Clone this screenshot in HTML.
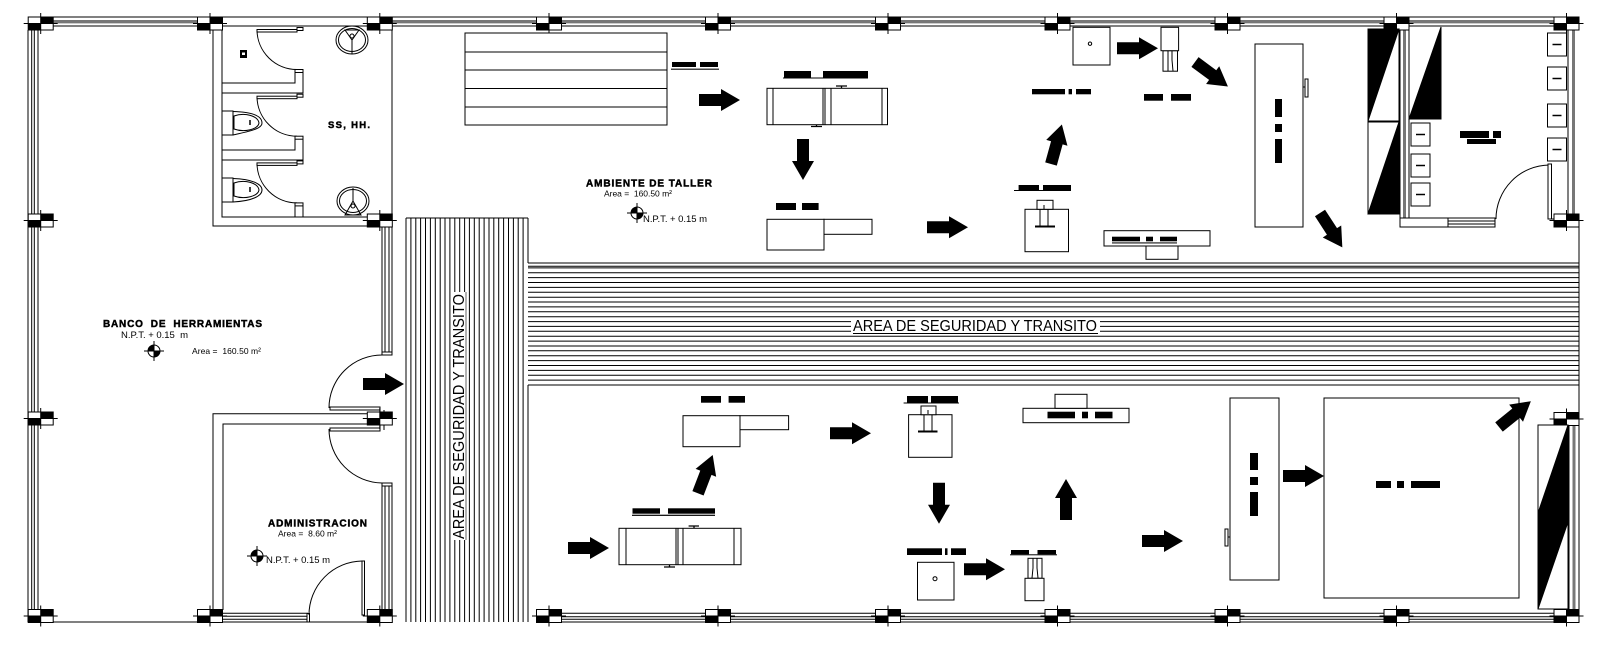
<!DOCTYPE html>
<html><head><meta charset="utf-8"><style>
html,body{margin:0;padding:0;background:#fff;width:1600px;height:656px;overflow:hidden}
svg{display:block}
text{font-family:"Liberation Sans",sans-serif;fill:#000}
.b{font-weight:bold;stroke:#000;stroke-width:.45}
</style></head><body>
<svg width="1600" height="656" viewBox="0 0 1600 656" xmlns="http://www.w3.org/2000/svg">
<defs>
<g id="c"><rect x="-12.5" y="-6.5" width="25" height="13" fill="#fff" stroke="#000"/><rect x="0" y="-6.5" width="12.5" height="6.5" fill="#000"/><rect x="-12.5" y="0" width="12.5" height="6.5" fill="#000"/><path d="M0,-10.5V10.5M-17,0H17" stroke="#000" fill="none"/></g>
<polygon id="a" points="0,-6 22,-6 22,-11 41,0 22,11 22,6 0,6" fill="#000"/>
<g id="s" fill="none" stroke="#000"><path d="M257,30A40,40 0 0 0 297,69.5"/><rect x="257" y="29.5" width="40" height="2.5" fill="#fff"/><rect x="297" y="27.5" width="6" height="3" fill="#fff"/><rect x="295" y="69.5" width="8" height="3" fill="#fff"/></g>
<g id="n"><circle r="6" fill="#fff" stroke="#000"/><path d="M0,0V-6A6,6 0 0 0 -6,0ZM0,0V6A6,6 0 0 0 6,0Z" fill="#000"/><path d="M0,-10V10M-10,0H10" stroke="#000" fill="none"/></g>
<g id="bx" fill="#fff" stroke="#000"><rect x="0" y="0" width="19" height="23"/><path d="M5,11.5H14" stroke-width="1.5"/></g>
</defs>

<!-- hatch vertical -->
<path fill="none" stroke="#000" stroke-width="1" d="M406,218V622M410.9,218V622M415.8,218V622M420.6,218V622M425.5,218V622M430.4,218V622M435.3,218V622M440.2,218V622M445,218V622M449.9,218V622M454.8,218V622M459.7,218V622M464.6,218V622M469.4,218V622M474.3,218V622M479.2,218V622M484.1,218V622M489,218V622M493.8,218V622M498.7,218V622M503.6,218V622M508.5,218V622M513.4,218V622M518.2,218V622M523.1,218V622M528,218V263M528,385V622M406,218H528"/>
<!-- hatch horizontal -->
<path fill="none" stroke="#000" stroke-width="1" d="M528,263H1579M528,266.2H1579M528,267.9H1579M528,272.8H1579M528,277.6H1579M528,282.5H1579M528,287.4H1579M528,292.3H1579M528,297.2H1579M528,302H1579M528,306.9H1579M528,311.8H1579M528,316.7H1579M528,321.6H1579M528,326.4H1579M528,331.3H1579M528,336.2H1579M528,341.1H1579M528,346H1579M528,350.8H1579M528,355.7H1579M528,360.6H1579M528,365.5H1579M528,370.4H1579M528,375.2H1579M528,380.1H1579M528,385H1579"/>
<rect x="851" y="318" width="249" height="15" fill="#fff"/>
<path d="M853,333.5H1098" stroke="#000" fill="none"/>
<text x="853" y="331" font-size="15.5" textLength="244" lengthAdjust="spacingAndGlyphs">AREA DE SEGURIDAD Y TRANSITO</text>
<rect x="452" y="292" width="14" height="248" fill="#fff"/>
<path d="M466,292V540" stroke="#666" fill="none"/>
<text transform="translate(464,539) rotate(-90)" font-size="15.5" textLength="245" lengthAdjust="spacingAndGlyphs">AREA DE SEGURIDAD Y TRANSITO</text>

<!-- outer walls -->
<g fill="none" stroke="#000">
<path d="M28,17H1579M28,26H1400M1409,26H1568M1579,17V30M1579,214V413M1579,425V622"/>
<path d="M53,21.7H197M392,21.7H1554" stroke="#777" stroke-width="3.4"/>
<path d="M28,30V610M31.7,30V610M34.3,30V610M38,30V610"/>
<path d="M28,610V622M28,622H392M537,622H1579M223,613.3H308M223,616.3H308M223,619.3H308M537,613.3H1554M537,616.7H1554M537,619.3H1554"/>
<rect x="307" y="613.5" width="2.5" height="8.5" fill="#fff"/>
<!-- SS HH room -->
<path d="M213,26V226H367M222,26V217H367M392,26V214M222,83H295V72M222,93H303V69M222,150H295V139M222,160H303V136M295,217V206M303,217V203"/>
<!-- wall 380 -->
<path d="M382,227V354M385,227V354M389,227V354M392,227V354M382,484V610M385,484V610M389,484V610M392,484V610"/>
<rect x="382" y="352" width="10" height="3" fill="#fff"/><rect x="382" y="483" width="10" height="3" fill="#fff"/>
<path d="M329,408A53,53 0 0 1 382,355M329,429A54,54 0 0 0 382,483M362,561A54,54 0 0 0 309,615"/>
<rect x="330" y="407" width="50" height="3" fill="#fff"/><rect x="330" y="428" width="50" height="3" fill="#fff"/>
<rect x="362" y="561" width="2.5" height="54" fill="#fff"/>
<!-- admin -->
<path d="M213,610V413.7H367M223,610V424H367M380,410V430M384,410V430"/>
<!-- right room -->
<path d="M1400,30V218M1409,30V218M1568,30V214"/>
<path d="M1404.5,30V218M1573.5,30V214" stroke="#777" stroke-width="3"/>
<rect x="1400" y="218" width="95" height="9" fill="#fff"/>
<path d="M1448,218V227M1448,221H1495M1448,224H1495"/>
<path d="M1549,165A54,54 0 0 0 1496,219"/>
<rect x="1548" y="164" width="3.5" height="55" fill="#fff"/>
<path d="M1551,219H1555"/>
<!-- lower right wall -->
<path d="M1569,425V610"/>
<path d="M1574,425V610" stroke="#777" stroke-width="3"/>
</g>
<use href="#s"/><use href="#s" y="66.7"/><use href="#s" y="133.4"/>

<!-- columns -->
<use href="#c" x="40.7" y="23.5"/><use href="#c" x="210" y="23.5"/><use href="#c" x="379.8" y="23.5"/><use href="#c" x="549" y="23.5"/><use href="#c" x="718" y="23.5"/><use href="#c" x="888" y="23.5"/><use href="#c" x="1057.5" y="23.5"/><use href="#c" x="1227.5" y="23.5"/><use href="#c" x="1396.5" y="23.5"/><use href="#c" x="1566.5" y="23.5"/>
<use href="#c" x="40.7" y="616"/><use href="#c" x="210" y="616"/><use href="#c" x="379.8" y="616"/><use href="#c" x="549" y="616"/><use href="#c" x="718" y="616"/><use href="#c" x="888" y="616"/><use href="#c" x="1057.5" y="616"/><use href="#c" x="1227.5" y="616"/><use href="#c" x="1396.5" y="616"/><use href="#c" x="1566.5" y="616"/>
<use href="#c" x="40.7" y="220.5"/><use href="#c" x="40.7" y="418.5"/><use href="#c" x="379.8" y="220.5"/><use href="#c" x="379.8" y="418.5"/><use href="#c" x="1566.5" y="220.5"/><use href="#c" x="1566.5" y="419"/>

<!-- SS HH fixtures -->
<rect x="240" y="50" width="7" height="8" fill="#000"/><rect x="242" y="52.5" width="3" height="2.5" fill="#fff"/>
<g fill="none" stroke="#000">
<rect x="222" y="111" width="11" height="24" fill="#fff"/>
<path d="M233,111.5C252,112 262,116 262,123C262,129 250,131 233,135"/>
<path d="M234,116C245,112 258,116 259,123C258,129 245,133 234,129Z"/>
<path d="M250,120V125" stroke-width="1.5"/>
<rect x="222" y="178" width="11" height="24" fill="#fff"/>
<path d="M233,178.5C252,179 262,184 262,190C262,196 252,201 233,202"/>
<path d="M234,183C245,179 258,183 259,190C258,196 245,200 234,196Z"/>
<path d="M250,187V192" stroke-width="1.5"/>
<ellipse cx="352" cy="40" rx="16" ry="14"/><ellipse cx="352" cy="40" rx="13.5" ry="11.5"/>
<path d="M345,30H359L352,40ZM352,40V54"/><circle cx="352" cy="36" r="2"/>
<ellipse cx="353" cy="201" rx="16" ry="14"/><ellipse cx="353" cy="201" rx="13.5" ry="11.5"/>
<path d="M345,215H361L353,201ZM353,188V201"/><circle cx="353" cy="206" r="2"/>
</g>

<!-- machines upper -->
<g fill="#fff" stroke="#000">
<rect x="465" y="33" width="202" height="92"/><path d="M465,52H667M465,70H667M465,88.5H667M465,107H667" fill="none"/>
<rect x="767" y="88.3" width="120.5" height="36.4"/><path d="M773,88.3V124.7M823,88.3V124.7M825,88.3V124.7M831,88.3V124.7M882,88.3V124.7" fill="none"/>
<path d="M836,86H847M841.5,86V88M811,126.5H822M816.5,125V126.5" stroke-width="1.3" fill="none"/>
<rect x="767" y="219.3" width="57" height="30.7"/><rect x="824" y="219.3" width="48" height="15"/>
<rect x="1025" y="209.3" width="43.5" height="42.4"/><rect x="1037" y="200.3" width="16" height="9"/>
<path d="M1040,209.3V226M1048,209.3V226M1044,205V209" fill="none"/><path d="M1035,226.5H1055" stroke-width="2" fill="none"/>
<rect x="1073" y="27.3" width="37" height="37.7"/><circle cx="1090" cy="43.7" r="1.7" stroke-width="1"/>
<rect x="1163" y="50.7" width="14.5" height="20.5"/><rect x="1161" y="27.3" width="17.6" height="23.4"/>
<path d="M1168,51V71M1172,51V60L1173,71" fill="none"/>
<rect x="1104" y="230.7" width="106" height="15.3"/><rect x="1146" y="246" width="32" height="13.3"/>
<rect x="1255" y="44" width="48" height="183"/>
<rect x="1305" y="79" width="3" height="18"/><path d="M1303,87H1305" fill="none"/>
</g>

<!-- right room fixtures -->
<g fill="#fff" stroke="#000">
<rect x="1368" y="29" width="31" height="92"/><rect x="1368" y="122" width="31" height="92"/>
<polygon points="1368,29 1399,29 1368,121" fill="#000"/>
<polygon points="1399,122 1399,214 1368,214" fill="#000"/>
<polygon points="1441,27 1441,119 1409,119" fill="#000"/>
<use href="#bx" x="1411" y="123"/><use href="#bx" x="1411" y="154"/><use href="#bx" x="1411" y="183"/>
<use href="#bx" x="1547.5" y="33"/><use href="#bx" x="1547.5" y="67"/><use href="#bx" x="1547.5" y="104"/><use href="#bx" x="1547.5" y="138"/>
</g>

<!-- machines lower -->
<g fill="#fff" stroke="#000">
<rect x="683" y="415.7" width="57" height="31"/><rect x="740" y="415.7" width="48.6" height="14"/>
<rect x="619" y="528.3" width="122" height="36.4"/><path d="M626,528.3V564.7M676,528.3V564.7M678,528.3V564.7M683,528.3V564.7M734,528.3V564.7" fill="none"/>
<path d="M688.6,526H699M694,526V528M664,567H675M669.5,565V567" stroke-width="1.3" fill="none"/>
<rect x="908.6" y="414.7" width="43.4" height="42.6"/><rect x="921" y="406" width="15" height="8.7"/>
<path d="M924,414.7V431M932,414.7V431M928,410V414" fill="none"/><path d="M918,431.5H937.5" stroke-width="2" fill="none"/>
<rect x="1023" y="408.3" width="106" height="14.4"/><rect x="1055" y="394.3" width="32" height="14"/>
<rect x="917.5" y="562.3" width="36.5" height="37.7"/><circle cx="935" cy="578.7" r="2"/>
<rect x="1028" y="558.3" width="14" height="20"/><rect x="1025" y="578.3" width="19" height="22.4"/>
<path d="M1033,558.3V568L1032,578M1037,558.3V568L1038,578" fill="none"/>
<rect x="1230" y="398" width="49" height="182"/>
<rect x="1225" y="529" width="3" height="17"/><path d="M1228,537H1230" fill="none"/>
<rect x="1324" y="398" width="195" height="200"/>
<rect x="1538" y="425" width="30" height="184"/>
<polygon points="1568,425 1568,522 1538,609 1538,513" fill="#000"/>
</g>

<!-- label bars -->
<g fill="#000">
<rect x="672" y="62" width="24" height="5"/><rect x="700" y="62" width="18" height="5"/><rect x="671" y="68.5" width="48" height="1.5" fill="#444"/>
<rect x="784" y="71" width="27" height="6.7"/><rect x="823" y="71" width="45" height="6.7"/><rect x="783" y="77.5" width="85" height="1"/>
<rect x="776" y="203" width="20" height="7"/><rect x="802" y="203" width="16.6" height="7"/>
<rect x="1018.6" y="185" width="20.4" height="5"/><rect x="1043" y="185" width="28" height="5"/><rect x="1014" y="190" width="57" height="1"/>
<rect x="1032" y="89" width="33" height="5.3"/><rect x="1068.6" y="89" width="3.4" height="5.3"/><rect x="1076" y="89" width="15" height="5.3"/>
<rect x="1144" y="94" width="19" height="6.7"/><rect x="1171" y="94" width="20" height="6.7"/>
<rect x="1112" y="236.7" width="28" height="4.6"/><rect x="1146" y="236.7" width="7" height="4.6"/><rect x="1160" y="236.7" width="17" height="4.6"/><rect x="1112" y="242.2" width="65" height="1.4" fill="#444"/>
<rect x="1275" y="99" width="7" height="18"/><rect x="1275" y="124" width="7" height="8"/><rect x="1275" y="139" width="7" height="24"/>
<rect x="1460" y="131" width="29" height="7"/><rect x="1493" y="131" width="8" height="7"/><rect x="1467" y="139" width="29" height="5"/>
<rect x="701" y="396" width="20" height="6.7"/><rect x="728.6" y="396" width="16.4" height="6.7"/>
<rect x="632.5" y="508.3" width="27.5" height="5.4"/><rect x="668" y="508.3" width="47" height="5.4"/><rect x="632" y="514.7" width="83" height="1.2"/>
<rect x="907" y="396" width="21" height="6.7"/><rect x="931" y="396" width="27" height="6.7"/><rect x="903.6" y="402.5" width="55.4" height="1"/>
<rect x="1047.5" y="411.7" width="27.5" height="6.6"/><rect x="1082" y="411.7" width="6" height="6.6"/><rect x="1095" y="411.7" width="17.5" height="6.6"/>
<rect x="907" y="548.3" width="35" height="6.7"/><rect x="945" y="548.3" width="2.5" height="6.7"/><rect x="951" y="548.3" width="15" height="6.7"/>
<rect x="1011" y="550" width="18" height="4.3"/><rect x="1037.5" y="550" width="18.5" height="4.3"/><rect x="1010" y="554.3" width="47" height="1"/>
<rect x="1250" y="453" width="8" height="17"/><rect x="1250" y="477" width="8" height="8"/><rect x="1250" y="492" width="8" height="24"/>
<rect x="1376" y="481" width="15" height="7"/><rect x="1397" y="481" width="7" height="7"/><rect x="1411" y="481" width="29" height="7"/>
</g>

<!-- arrows -->
<use href="#a" transform="translate(699,100)"/>
<use href="#a" transform="translate(803,139) rotate(90)"/>
<use href="#a" transform="translate(927,227.3)"/>
<use href="#a" transform="translate(1051,164) rotate(-74.6)"/>
<use href="#a" transform="translate(1117,48.3)"/>
<use href="#a" transform="translate(1195,62) rotate(36.6)"/>
<use href="#a" transform="translate(1320,213) rotate(57)"/>
<use href="#a" transform="translate(363,384)"/>
<use href="#a" transform="translate(568,548)"/>
<use href="#a" transform="translate(698,493.3) rotate(-69)"/>
<use href="#a" transform="translate(830,433.3)"/>
<use href="#a" transform="translate(939,482.7) rotate(90)"/>
<use href="#a" transform="translate(964,569.3)"/>
<use href="#a" transform="translate(1066,520) rotate(-90)"/>
<use href="#a" transform="translate(1142,541)"/>
<use href="#a" transform="translate(1283,476)"/>
<use href="#a" transform="translate(1499,427) rotate(-39)"/>

<!-- level symbols -->
<use href="#n" x="154" y="351"/><use href="#n" x="257" y="556"/><use href="#n" x="637" y="213"/>

<!-- labels -->
<text class="b" x="103" y="327" font-size="10" textLength="159" lengthAdjust="spacing" xml:space="preserve">BANCO  DE  HERRAMIENTAS</text>
<text x="121" y="338" font-size="9.5" textLength="67" lengthAdjust="spacing" xml:space="preserve">N.P.T. + 0.15  m</text>
<text x="192" y="354" font-size="8.5" textLength="69" lengthAdjust="spacing" xml:space="preserve">Area =  160.50 m²</text>
<text class="b" x="328" y="128" font-size="9.5" textLength="42" lengthAdjust="spacing">SS, HH.</text>
<text class="b" x="268" y="526.5" font-size="10" textLength="99" lengthAdjust="spacing">ADMINISTRACION</text>
<text x="278" y="536.5" font-size="8.5" textLength="59" lengthAdjust="spacing" xml:space="preserve">Area =  8.60 m²</text>
<text x="266" y="563" font-size="9.5" textLength="64" lengthAdjust="spacing" xml:space="preserve">N.P.T. + 0.15 m</text>
<text class="b" x="586" y="186.5" font-size="10" textLength="126" lengthAdjust="spacing">AMBIENTE DE TALLER</text>
<text x="604" y="196.5" font-size="8.5" textLength="68" lengthAdjust="spacing" xml:space="preserve">Area =  160.50 m²</text>
<text x="643" y="222" font-size="9.5" textLength="64" lengthAdjust="spacing" xml:space="preserve">N.P.T. + 0.15 m</text>
</svg>
</body></html>
